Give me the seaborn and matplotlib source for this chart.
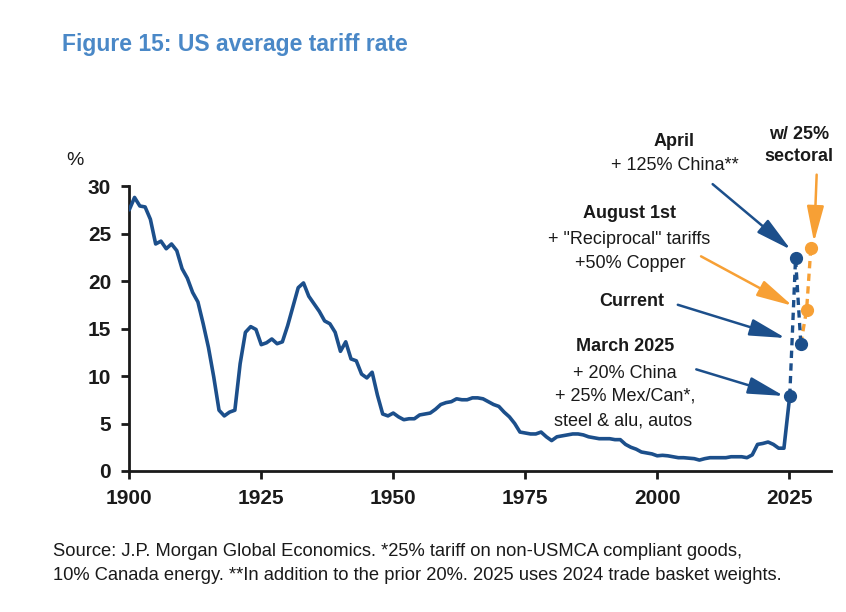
import matplotlib
matplotlib.use("Agg")
import matplotlib.pyplot as plt
import seaborn as sns
import pandas as pd

# US average tariff rate, %
years = list(range(1900, 2025))
tariff = [
    27.5, 28.8, 27.9, 27.8, 26.5, 23.9, 24.2, 23.4, 23.9, 23.2,   # 1900s
    21.3, 20.3, 18.8, 17.8, 15.5, 13.0, 9.9, 6.4, 5.8, 6.2,       # 1910s
    6.4, 11.3, 14.6, 15.2, 14.9, 13.3, 13.5, 13.9, 13.4, 13.6,    # 1920s
    15.3, 17.3, 19.3, 19.8, 18.4, 17.6, 16.8, 15.8, 15.5, 14.6,   # 1930s
    12.6, 13.6, 11.8, 11.6, 10.2, 9.8, 10.4, 8.0, 6.0, 5.8,       # 1940s
    6.1, 5.7, 5.4, 5.5, 5.5, 5.9, 6.0, 6.1, 6.5, 7.0,             # 1950s
    7.2, 7.3, 7.6, 7.5, 7.5, 7.7, 7.7, 7.6, 7.3, 7.0,             # 1960s
    6.8, 6.2, 5.7, 5.0, 4.1, 4.0, 3.9, 3.9, 4.1, 3.6,             # 1970s
    3.2, 3.6, 3.7, 3.8, 3.9, 3.9, 3.8, 3.6, 3.5, 3.4,             # 1980s
    3.4, 3.4, 3.3, 3.3, 2.8, 2.5, 2.3, 2.0, 1.9, 1.8,             # 1990s
    1.6, 1.65, 1.6, 1.5, 1.4, 1.4, 1.35, 1.3, 1.15, 1.3,          # 2000s
    1.4, 1.4, 1.4, 1.4, 1.5, 1.5, 1.5, 1.4, 1.7, 2.8,             # 2010s
    2.9, 3.05, 2.8, 2.4, 2.4,                                     # 2020-2024
]

# 2025 scenarios (spread out horizontally on the chart)
march_x, march_y = 2025.1, 7.9
april_x, april_y = 2026.2, 22.4
current_x, current_y = 2027.2, 13.4
august_x, august_y = 2028.3, 17.0
sector_x, sector_y = 2029.1, 23.5

navy = "#1c4f8b"
orange = "#f7a035"
title_blue = "#4a88c7"
txt = "#1a1a1a"

sns.set_theme(style="ticks")
plt.rcParams["font.family"] = ["Liberation Sans", "DejaVu Sans"]

fig = plt.figure(figsize=(8.46, 6.12), dpi=100)
ax = fig.add_axes([0.1528, 0.2304, 0.83, 0.4656])

hist = pd.DataFrame({"year": years + [march_x], "rate": tariff + [march_y]})
sns.lineplot(data=hist, x="year", y="rate", ax=ax, color=navy, lw=2.6, zorder=3)

# orange: current -> August 1st -> with sectoral
sns.lineplot(x=[current_x, august_x, sector_x], y=[current_y, august_y, sector_y],
             ax=ax, color=orange, lw=2.4, linestyle=(0, (2.2, 1.6)), zorder=3)
ax.plot([august_x, sector_x], [august_y, sector_y], "o", color=orange, ms=8.5, zorder=4)

# navy: March -> April -> current
sns.lineplot(x=[march_x, april_x, current_x], y=[march_y, april_y, current_y],
             ax=ax, color=navy, lw=2.4, linestyle=(0, (2.2, 1.6)), sort=False, zorder=4)
ax.plot([march_x, april_x, current_x], [march_y, april_y, current_y], "o",
        color=navy, ms=8.5, zorder=5)

ax.set_xlim(1900, 2033)
ax.set_ylim(0, 30)
ax.set_xticks([1900, 1925, 1950, 1975, 2000, 2025])
ax.set_yticks([0, 5, 10, 15, 20, 25, 30])
ax.set_xlabel("")
ax.set_ylabel("")
sns.despine(ax=ax)
for s in ["left", "bottom"]:
    ax.spines[s].set_linewidth(2.0)
    ax.spines[s].set_color(txt)
ax.tick_params(axis="both", length=6, width=2.0, color=txt, pad=7,
               labelsize=15, labelcolor=txt)
for lab in ax.get_xticklabels() + ax.get_yticklabels():
    lab.set_fontweight("bold")

ax.text(-0.09, 1.09, "%", transform=ax.transAxes, fontsize=14, color=txt,
        ha="left", va="center")

# annotations
def note(x, y, s, bold=False):
    ax.text(x, y, s, ha="center", va="center", fontsize=13, color=txt,
            fontweight="bold" if bold else "normal", clip_on=False)

note(2003.2, 34.7, "April", bold=True)
note(2003.4, 32.2, "+ 125% China**")
note(2026.8, 35.4, "w/ 25%", bold=True)
note(2026.9, 33.1, "sectoral", bold=True)
note(1994.8, 27.1, "August 1st", bold=True)
note(1994.6, 24.4, '+ "Reciprocal" tariffs')
note(1994.8, 21.8, "+50% Copper")
note(1995.2, 17.8, "Current", bold=True)
note(1994.0, 13.1, "March 2025", bold=True)
note(1993.8, 10.3, "+ 20% China")
note(1993.9, 7.9, "+ 25% Mex/Can*,")
note(1993.5, 5.3, "steel & alu, autos")

def arrow(x0, y0, x1, y1, c):
    ax.annotate("", xy=(x1, y1), xytext=(x0, y0), annotation_clip=False,
                arrowprops=dict(arrowstyle="-|>,head_length=1.1,head_width=0.26",
                                color=c, lw=1.8, mutation_scale=20,
                                shrinkA=0, shrinkB=0))

arrow(2010.5, 30.2, 2025.3, 23.3, navy)
arrow(2008.3, 22.6, 2025.6, 17.4, orange)
arrow(2003.9, 17.5, 2024.3, 14.0, navy)
arrow(2007.4, 10.7, 2024.0, 7.9, navy)
arrow(2030.2, 31.2, 2029.7, 24.1, orange)

fig.text(0.073, 1 - 45 / 612, "Figure 15: US average tariff rate", fontsize=16.5,
         fontweight="bold", color=title_blue, ha="left", va="center")
fig.text(0.063, 1 - 551 / 612,
         "Source: J.P. Morgan Global Economics. *25% tariff on non-USMCA compliant goods,",
         fontsize=13.2, color=txt, ha="left", va="center")
fig.text(0.063, 1 - 576 / 612,
         "10% Canada energy. **In addition to the prior 20%. 2025 uses 2024 trade basket weights.",
         fontsize=13.2, color=txt, ha="left", va="center")

fig.savefig("out.png", dpi=100, facecolor="white")
